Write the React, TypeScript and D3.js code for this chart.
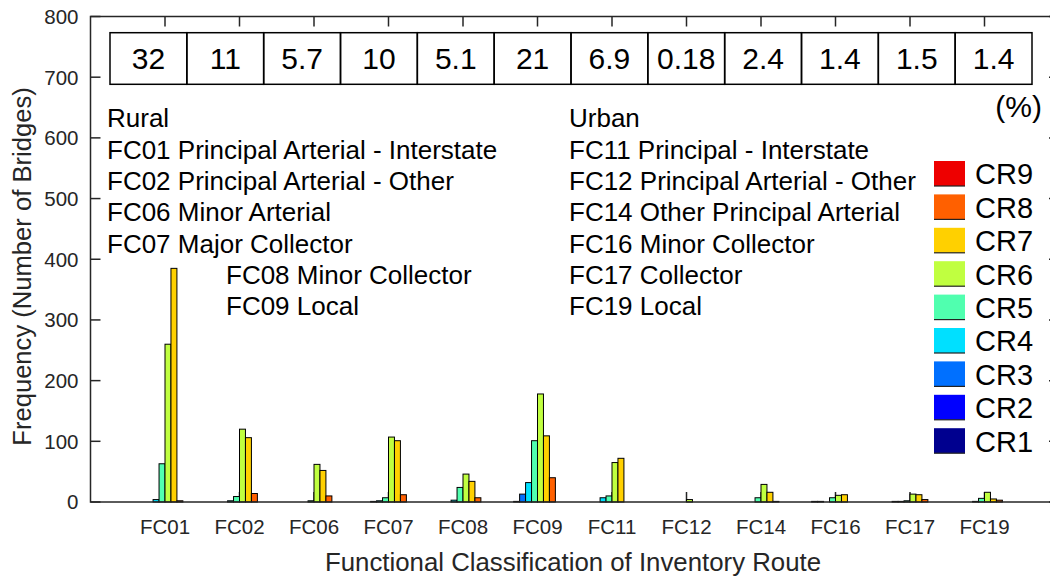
import React from "react";
import * as d3 from "d3";

const categories = ["FC01","FC02","FC06","FC07","FC08","FC09","FC11","FC12","FC14","FC16","FC17","FC19"];
const seriesNames = ["CR1","CR2","CR3","CR4","CR5","CR6","CR7","CR8","CR9"];
const seriesColors = ["#00008F","#0000FF","#0070FF","#00E0FF","#50FFAF","#C0FF40","#FFD000","#FF6000","#EE0000"];
// values per series (CR1..CR9), one entry per category
const CR1 = [0,0,0,0,0,0,0,0,0,0,0,0];
const CR2 = [0,0,0,0,0,1,0,0,0,1,0,0];
const CR3 = [0,0,0,1,0,13,0,0,0,1,1,0];
const CR4 = [4,2,0,2,3,32,7,0,0,0,1,1];
const CR5 = [63,9,2,7,24,101,10,0,7,7,2,6];
const CR6 = [260,120,62,107,46,178,65,4,29,11,13,16];
const CR7 = [385,106,52,101,34,109,72,0,16,12,12,5];
const CR8 = [2,14,10,12,7,40,0,0,1,0,4,3];
const CR9 = [0,0,0,0,0,0,0,0,0,0,0,0];
const seriesValues = [CR1,CR2,CR3,CR4,CR5,CR6,CR7,CR8,CR9];
const percentages = ["32","11","5.7","10","5.1","21","6.9","0.18","2.4","1.4","1.5","1.4"];
const yTicks = [0,100,200,300,400,500,600,700,800];
const ruralLines = ["Rural","FC01 Principal Arterial - Interstate","FC02 Principal Arterial - Other","FC06 Minor Arterial","FC07 Major Collector"];
const ruralLines2 = ["FC08 Minor Collector","FC09 Local"];
const urbanLines = ["Urban","FC11 Principal - Interstate","FC12 Principal Arterial - Other","FC14 Other Principal Arterial","FC16 Minor Collector","FC17 Collector","FC19 Local"];

const W = 1050, H = 578;
const FONT = "'Liberation Sans', Arial, Helvetica, sans-serif";
const AX = "#262626";

export default function App() {
  const x = d3.scaleLinear().domain([0, 13]).range([90.5, 1059]);
  const y = d3.scaleLinear().domain([0, 800]).range([502, 16.5]);
  const nSlots = 10;
  const slot = 0.8 / nSlots;
  const table = d3.scaleBand().domain(categories).range([110, 1032]);
  const legendY = d3.scaleBand().domain([...seriesNames].reverse()).range([161, 161 + 9 * 33.4]);
  const lineY = (i: number) => 118 + i * 31.3;

  return (
    <svg width={W} height={H} style={{ position: "absolute", left: 0, top: 0, background: "#fff" }} fontFamily={FONT}>
      {/* ticks (behind bars) */}
      {categories.map((c, i) => (
        <g key={c}>
          <line x1={x(i + 1)} x2={x(i + 1)} y1={y(0)} y2={y(0) - 10} stroke={AX} strokeWidth={1.5} />
          <line x1={x(i + 1)} x2={x(i + 1)} y1={y(800)} y2={y(800) + 10} stroke={AX} strokeWidth={1.5} />
        </g>
      ))}
      {yTicks.map((t) => (
        <g key={t}>
          <line x1={x(0)} x2={x(0) + 10} y1={y(t)} y2={y(t)} stroke={AX} strokeWidth={1.5} />
          <line x1={x(13)} x2={x(13) - 10} y1={y(t)} y2={y(t)} stroke={AX} strokeWidth={1.5} />
        </g>
      ))}
      {/* bars */}
      {seriesValues.map((vals, s) => (
        <g key={seriesNames[s]}>
          {vals.map((v, i) => {
            if (v <= 0) return null;
            const x0 = x(i + 1 + (s - 5) * slot);
            const x1 = x(i + 1 + (s - 4) * slot);
            return (
              <rect key={i} x={x0} y={y(v)} width={x1 - x0} height={y(0) - y(v)}
                fill={seriesColors[s]} stroke="#000" strokeWidth={1} />
            );
          })}
        </g>
      ))}
      {/* axes box */}
      <rect x={x(0)} y={y(800)} width={x(13) - x(0)} height={y(0) - y(800)} fill="none" stroke={AX} strokeWidth={1.5} />
      {/* y tick labels */}
      {yTicks.map((t) => (
        <text key={t} x={x(0) - 12} y={y(t)} dy="0.36em" textAnchor="end" fontSize={20.5} fill={AX}>{t}</text>
      ))}
      {/* x tick labels */}
      {categories.map((c, i) => (
        <text key={c} x={x(i + 1)} y={527} dy="0.36em" textAnchor="middle" fontSize={20.5} fill={AX}>{c}</text>
      ))}
      <text x={573} y={562} dy="0.36em" textAnchor="middle" fontSize={25.8} fill={AX}>Functional Classification of Inventory Route</text>
      <text transform="translate(22,266.5) rotate(-90)" dy="0.36em" textAnchor="middle" fontSize={25.6} fill={AX}>Frequency (Number of Bridges)</text>
      {/* percentage table */}
      {categories.map((c, i) => (
        <g key={c}>
          <rect x={table(c)} y={32.7} width={table.bandwidth()} height={51.6} fill="none" stroke="#000" strokeWidth={1.5} />
          <text x={(table(c) as number) + table.bandwidth() / 2} y={58.5} dy="0.36em" textAnchor="middle" fontSize={30}>{percentages[i]}</text>
        </g>
      ))}
      <text x={1042} y={106} dy="0.36em" textAnchor="end" fontSize={30}>(%)</text>
      {/* annotation text */}
      {ruralLines.map((t, i) => (
        <text key={t} x={107} y={lineY(i)} dy="0.36em" fontSize={26}>{t}</text>
      ))}
      {ruralLines2.map((t, i) => (
        <text key={t} x={226} y={lineY(i + 5)} dy="0.36em" fontSize={26}>{t}</text>
      ))}
      {urbanLines.map((t, i) => (
        <text key={t} x={569} y={lineY(i)} dy="0.36em" fontSize={26}>{t}</text>
      ))}
      {/* legend */}
      {[...seriesNames].reverse().map((n) => {
        const s = seriesNames.indexOf(n);
        const ty = legendY(n) as number;
        return (
          <g key={n}>
            <rect x={934} y={ty} width={31} height={25} fill={seriesColors[s]} />
            <line x1={934} x2={965} y1={ty + 25} y2={ty + 25} stroke="#222" strokeWidth={1.2} />
            <text x={975} y={ty + 13} dy="0.36em" fontSize={29}>{n}</text>
          </g>
        );
      })}
    </svg>
  );
}
